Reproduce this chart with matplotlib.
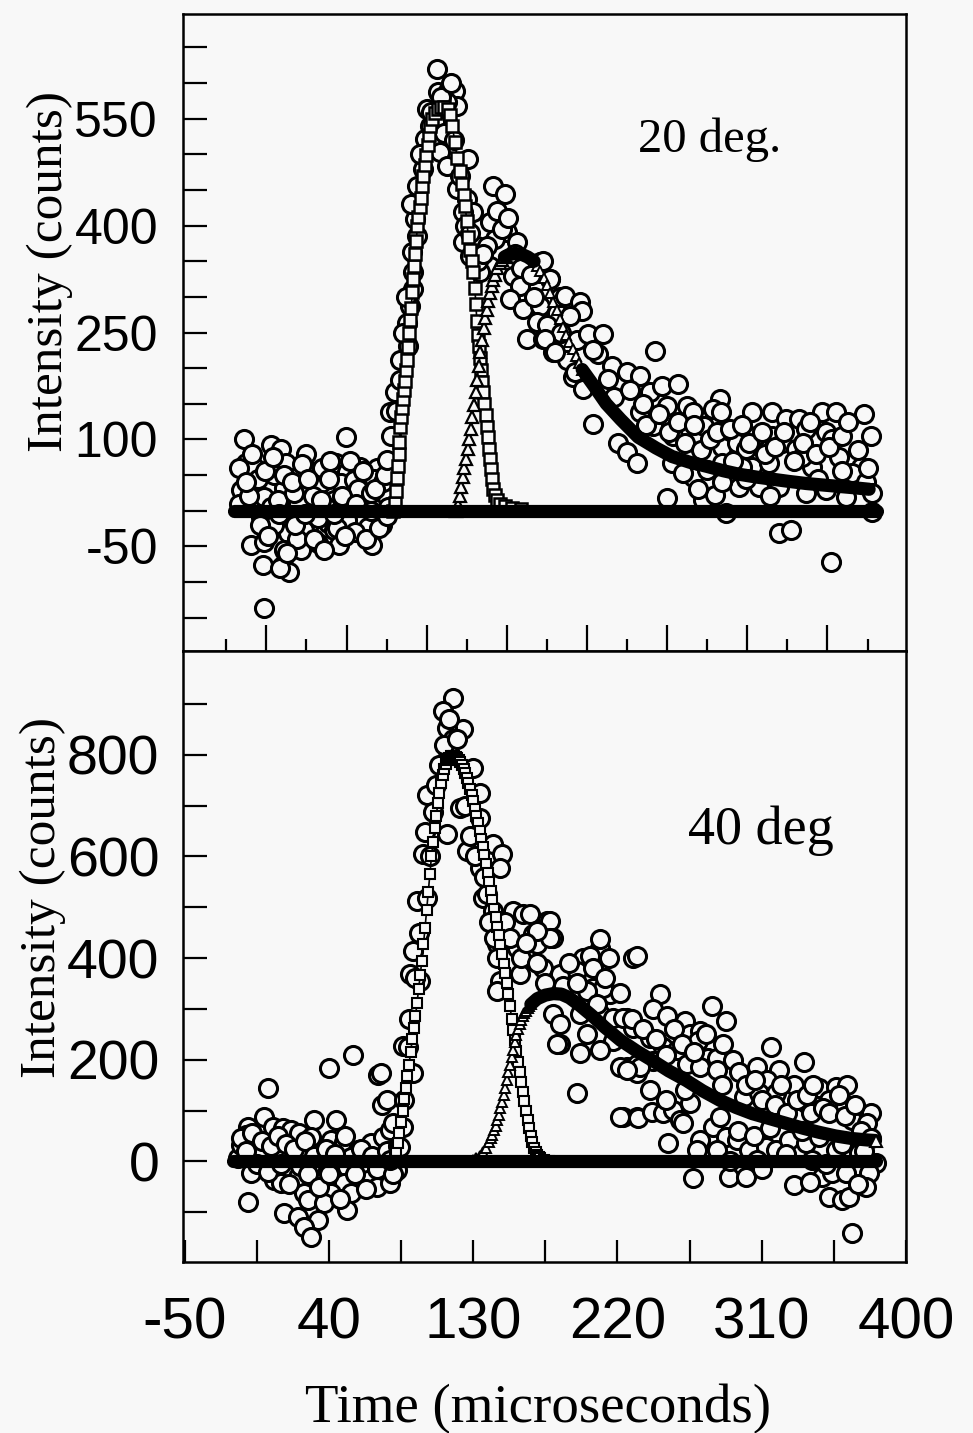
import matplotlib
matplotlib.use("Agg")
import matplotlib.pyplot as plt
from matplotlib import font_manager
import numpy as np

# ------------------------------------------------------------------
# DATA
# ------------------------------------------------------------------
# ---- top panel (20 deg.) : measured counts (open circles) ----
top_obs_t_a = [-13.1, 3.7, 10, 25.5, 50.4, -11.8, -6.8, 13.1, 20.5, 44.2, 51.6, 59.7, 70.3,
               -14.9, -6.8, -0.6, 11.8, 24.3, 34.8, 47.3, 55.4, 64.1, 72.2, 76.5, 3.7, 20.5,
               30.5, 42.9, 59.7, -2.5, 16.2, 26.8, 39.2, 51.6, 70.3, 14.3, 24.3, 42.9, 64.1,
               -8.7, -0.6, 11.8, 22.4, 33, 46, 67.2, -1.2, 11.2, 15, -0.6, 9.3,
               -16, -10, -4, 6, 8, 18, 28, 30, 36, 38, 40, 54, 58, 62, 66, 68, 74, 77,
               6, 20, 33, 45, 56, 73,
               -16, -12, -8, -3, 0, 2, 5, 9, 12, 14, 17, 19, 23, 25, 27, 31, 35, 37, 41, 43,
               48, 50, 53, 57, 61, 63, 66, 69, 71, 75]
top_obs_c_a = [99.9, 92.8, 85.8, 78.8, 102.7, 67.5, 61.9, 67.5, 47.8, 67.5, 54.9, 61.9, 60.5,
               29.5, 32.3, 19.7, 32.3, 32.3, 39.4, 39.4, 43.6, 39.4, 29.5, 19.7, 5.6, 11.3,
               1.4, 15.5, 19.7, -8.4, -16.9, -22.5, -16.9, -12.7, -12.7, -30.9, -26.7, -26.7, -22.5,
               -47.8, -43.6, -54.9, -54.9, -45, -47.8, -47.8, -75.9, -75.9, -85.8, -136.4, -80.2,
               10, 20, 45, 50, 15, 25, 55, 20, 60, 5, 45, 20, 30, 8, 25, 45, 40, 5,
               -20, -40, -10, -25, -30, -20,
               60, 40, 80, -20, 55, -35, 75, -5, 50, -60, 40, -20, 65, -5, 45, -40, 15, -55, 70, -5,
               20, -35, 70, 10, 55, -40, 0, 30, -25, 50]

top_obs_t_b = [76.5, 78.4, 81.5, 84.6, 84.6, 89.6, 89, 90.8, 92.7, 92.7, 92.1, 95.2, 94, 95.2,
               98.9, 100.2, 103.3, 107.6, 108.3, 114.5, 118.8, 120.1, 113.9, 101.4, 109.5, 113.9,
               126.9, 120.1, 126.3, 130, 123.8, 123.8, 128.2, 142.5, 150, 140.6, 151.2, 157.4,
               143.7, 132.5, 138.7, 140.6, 134.4, 154.9, 171.7, 177.9, 159.3, 153, 161.1, 171.7,
               163.6, 173.6, 182.3, 192.2, 179.8, 188.5, 76.5,
               79, 82, 86, 88, 91, 97, 104, 106, 110, 116, 112, 118, 122, 125, 128, 133, 136,
               145, 148, 152, 156, 160, 166, 168, 170, 176, 185, 184, 195]
top_obs_c_b = [71.7, 137.8, 166, 184, 212, 231, 264, 287, 311, 335, 363, 385, 409, 456,
               480, 522, 540, 620, 588, 589, 589, 568, 574, 564, 503, 484,
               494, 451, 437, 419, 419, 377, 357, 456, 444, 405, 391, 377,
               381, 371, 371, 343, 335, 329, 349, 325, 315, 297, 283, 287,
               241, 241, 278, 188, 222, 212, -8,
               105, 140, 250, 300, 430, 500, 560, 545, 580, 600, 530, 520, 470, 400, 390, 350, 360,
               420, 395, 410, 360, 340, 330, 300, 265, 260, 250, 300, 240]

top_obs_t_c = [173.6, 177.9, 187.3, 196.6, 197.8, 190.4, 174.8, 181, 201.6, 210.9, 207.8, 193.5,
               198.5, 216.5, 225.8, 233.9, 243.2, 204.7, 220.2, 225.8, 232, 240.1, 247.6, 257.6,
               250.7, 263.2, 233.9, 242, 254.4, 266.9, 274.3, 283.7, 279.3, 284.9, 253.8, 266.9,
               275.6, 285.5, 294.3, 300.5, 304.2, 316.7, 306.7, 316.7, 325.4, 333.4, 337.8, 322.9,
               331.6, 347.8, 356.5, 350.2, 354, 373.9, 378.2, 367.7, 372, 358.3, 366.4, 375.1,
               378.9, 378.9, 250.7, 273.1, 280.6, 288, 296.1, 308.6, 321, 337.8, 350.2, 362.7,
               321, 328.5, 353.4, 260.7, 294.3, 304.2, 314.8, 341.5, 335.3, 285.5, 297.4,
               205, 214, 218, 228, 236, 238, 246, 252, 258, 262, 268, 272, 278, 282, 290, 292,
               298, 302, 310, 312, 318, 324, 330, 336, 340, 344, 352, 360, 364, 370, 376, 300,
               315, 345, 360, 270, 285]
top_obs_c_c = [350.2, 324.9, 301, 292.5, 279.9, 272.9, 240.5, 222.2, 247.5, 247.5, 219.4, 194.1,
               170.2, 202.5, 194.1, 188.5, 223.6, 121, 95.6, 81.6, 67.5, 166, 174.4, 177.2,
               146.3, 146.3, 137.8, 118.1, 104.1, 137.8, 118.1, 156.1, 142.1, 137.8, 67.5, 47.8,
               57.7, 90, 95.6, 85.8, 137.8, 137.8, 104.1, 104.1, 128, 128, 113.9, 95.6,
               85.8, 137.8, 137.8, 109.7, 99.9, 135, 104.1, 71.7, 61.9, 75.9, 53.4, 40.8,
               25.3, -1.4, 18.3, 15.5, 22.5, -2.8, 33.8, 33.8, 33.8, 25.3, 29.5, 19.7,
               -30.9, -26.7, -71.7, 53.4, 61.9, 61.9, 67.5, 61.9, 75.9, 67.5, 61.9,
               225, 185, 160, 170, 150, 120, 135, 110, 125, 95, 120, 85, 100, 110, 115, 70,
               120, 95, 110, 80, 90, 110, 70, 95, 125, 80, 90, 105, 125, 85, 60, 45,
               20, 45, 55, 30, 40]

# ---- top panel : fitted components ----
top_base_t = [-19, 382]
top_base_c = [0, 0]

top_fast_t = [80.3, 81.5, 82.0, 82.5, 83.0, 83.5, 84.0, 84.6, 85.2, 85.8, 86.4, 87.0, 87.6, 88.3,
              89.0, 89.6, 90.2, 90.8, 91.4, 92.1, 92.7, 93.3, 93.9, 94.5, 95.2, 95.9, 96.6,
              97.3, 98.1, 98.9, 99.8, 100.7, 101.6, 102.5, 103.3, 104.5, 106, 108, 110, 112,
              114, 115.5, 117, 118.5, 120, 121.5, 123, 124, 125, 126, 127, 128, 129, 130, 131,
              131.7, 132.3, 133, 133.6, 134.3, 135, 135.6, 136.2, 137, 137.9, 138.7, 139.3, 140,
              140.6, 141.2, 141.8, 142.5, 143.5, 145, 147, 150, 154, 160]
top_fast_c = [0, 11, 28, 46, 63, 80, 97, 118, 131, 144, 157, 169, 182, 197,
              212, 230, 249, 267, 285, 307, 325, 343, 360, 378, 399, 412, 426,
              439, 455, 470, 485, 499, 513, 527, 540, 550, 558, 564, 567, 567,
              564, 555, 540, 518, 495, 476, 458, 443, 428, 407, 384, 366, 350, 335, 313,
              290, 266, 247, 231, 214, 197, 181, 166, 150, 134, 118, 103, 87,
              72, 58, 44, 30, 22, 15, 10, 6, 3, 2]

top_slow_rise_t = [119.5, 120.5, 121.5, 122.5, 123.5, 124.5, 125.5, 126.5, 127.5, 128.5, 129.5,
                   130.5, 131.5, 132.5, 133.5, 134.5, 135.5, 136.5, 137.5, 138.5, 139.5, 140.5,
                   141.5, 142.5, 143.5, 145, 146.5, 148, 149.5]
top_slow_rise_c = [0, 8, 20, 33, 47, 60, 73, 86, 100, 115, 131,
                   148, 166, 184, 203, 222, 240, 256, 270, 282, 294, 305,
                   315, 323, 331, 340, 347, 352, 356]
top_slow_cap_t = [149.5, 152, 156, 160, 164, 168]
top_slow_cap_c = [356, 359, 361, 360, 356, 350]
top_slow_fall_t = [168, 170, 172, 174, 176, 178, 180, 182, 184, 186, 188, 190, 192, 194, 196, 198]
top_slow_fall_c = [350, 344, 337, 327, 316, 305, 293, 281, 269, 258, 247, 237, 227, 217, 207, 198]
top_slow_tail_t = [198, 205, 213, 222, 233, 244, 254, 265, 276, 286, 296, 307, 317, 327, 338,
                   348, 358, 368, 377]
top_slow_tail_c = [198, 176, 150, 128, 103, 88, 76, 68, 62, 56, 51, 47, 44, 41, 38,
                   36, 34, 32, 30]

# ---- bottom panel (40 deg) : measured counts ----
bot_obs_t_a = [1.9, 39.8, 54.8, 70.9, 73.4, 86.5, -10.6, -0.6, 5, 11.2, 16.2, 21.2, 30.5, 44.2,
               28.6, 41.1, 49.2, 57.9, 66, 74, 78.4, 86.5, -13.1, -2.5, 8.1, 22.4, 33, 53.5,
               -8.7, 3.7, 16.2, 39.2, 51.6, 61.6, 74, 82.7, 5.6, 10, 20.5, 36.7, 49.2, 64.1,
               70.3, 78.4, -10.6, 24.3, 41.1, 53.5, 26.8, 36.7, 51.6, 11.8, 20.5, 33, 24.3,
               28.6, -16.8, -14.9, -11.8,
               -15, -12, -8, -5, -2, 2, 4, 8, 10, 13, 15, 18, 22, 25, 27, 31, 34, 38, 40, 44,
               47, 50, 56, 60, 63, 67, 70, 76, 80, 83]
bot_obs_c_a = [143.4, 182.7, 208.3, 169, 110, 227.9, 66.8, 86.4, 66.8, 64.8, 60.9, 55, 80.6, 80.6,
               47.2, 41.3, 37.3, 21.6, 35.4, 47.2, 60.9, 66.8, 7.9, 21.6, 15.7, 15.7, 7.9, 7.9,
               -23.6, -11.8, -17.7, -17.7, -11.8, -11.8, -11.8, -17.7, -37.3, -43.2, -31.4, -37.3,
               -43.2, -37.3, -51.1, -43.2, -80.6, -62.9, -62.9, -62.9, -76.6, -82.5, -96.3,
               -102.2, -110, -115.9, -129.7, -149.3, 5.9, 31.4, 51.1,
               45, 20, 55, -5, 40, -20, 30, 50, -5, 35, -45, 25, -10, 40, -25, 10, -50, 25, -25, 15,
               -75, 50, -25, 25, -55, 10, -15, 20, -25, 30]

bot_obs_t_b = [117.6, 111.4, 123.8, 113.9, 117.6, 114.5, 130, 121.9, 134.4, 134.4, 113.9, 126.3,
               101.4, 105.1, 100.2, 98.9, 95.2, 101.4, 92.7, 90.8, 97.1, 89.6, 92.7, 72.2, 76.5,
               80.3, 84.6, 78.4, 142.5, 148.1, 146.8, 134.4, 136.2, 138.7, 142.5, 154.9, 161.1,
               165.5, 176.1, 177.9, 167.4, 179.8, 169.8, 157.4, 145, 145, 146.8, 145, 159.3,
               173.6, 184.1, 198.5, 209, 209, 229.6, 179.8, 184.1, 196.6, 200.9, 209, 217.1,
               217.1, 225.8, 232, 194.7, 223.3, 232, 204.7, 215.3,
               177.9, 169.8, 202.8, 194.7, 210.9, 200.9, 207.2, 225.8, 229.6, 184.1, 182.3,
               196.6, 209, 221.5, 232,
               87, 90, 94, 96, 103, 107, 109, 112, 115, 120, 125, 128, 131, 137, 140, 143, 150,
               153, 160, 163, 170, 175, 186, 190, 195, 205, 212, 215]
bot_obs_c_b = [911.6, 886, 850.7, 852.7, 831, 807.5, 774, 695.5, 725, 675.8, 644.4, 611,
               721, 687.6, 648.3, 605, 512.8, 518.7, 414.5, 369.4, 355.6, 224, 172.9, 172.9, 119.8,
               74.7, 27.5, 2, 624.8, 605, 577.6, 577.6, 518.7, 526.5, 493.1, 493.1, 487.2,
               487.2, 473.5, 473.5, 448, 440, 428.3, 420.4, 428.3, 400.8, 355.6, 336, 369.4,
               381.1, 369.4, 400.8, 420.4, 438, 400.8, 290.8, 231.8, 290.8, 251.5, 290.8, 282.9,
               237.7, 184.7, 192.5, 133.6, 86.4, 86.4, 341.8, 330,
               440, 453.8, 404.7, 375.2, 341.8, 336, 310.4, 282.9, 263.3, 271.1, 231.8,
               212.2, 218.1, 184.7, 172.9,
               120, 280, 360, 450, 600, 740, 780, 820, 870, 830, 700, 640, 600, 560, 470, 440, 470,
               440, 400, 430, 390, 350, 345, 390, 350, 380, 360, 400]

bot_obs_t_c = [232, 221.5, 246.4, 242, 250.7, 223.3, 228.9, 261.9, 265, 271.2, 278.7, 288, 270,
               276.2, 282.4, 240.1, 248.2, 256.9, 263.2, 271.2, 281.8, 242, 233.9, 225.8, 316,
               307.3, 321, 336.6, 330.3, 313.5, 304.2, 299.2, 308.6, 319.1, 345.9, 356.5, 363.3,
               360.2, 352.1, 337.8, 340.9, 366.4, 378.2, 375.7, 221.5, 232.7, 241.4, 248.2, 254.4,
               258.8, 265, 260.7, 251.3, 271.2, 279.3, 283.7, 288, 294.3, 302.3, 312.9, 319.1,
               327.2, 337.8, 345.9, 356.5, 366.4, 370.8, 381.3, 377, 266.9, 289.9, 300.5, 330.3,
               347.8, 354, 375.1, 352.1, 360.2, 364.6, 366.4, 269.4, 281.8, 307.3, 341.5, 362.7,
               236, 244, 250, 255, 260, 268, 275, 286, 292, 296, 300, 306, 310, 318, 322, 326,
               332, 338, 342, 348, 352, 358, 362, 368, 372, 378, 240, 250, 262, 285, 295, 305,
               315, 325, 335, 350, 360, 370, 374, 290, 310, 340]
bot_obs_c_c = [404.7, 332, 330, 300.6, 286.8, 282.9, 281, 277, 251.5, 257.4, 306.5, 277, 237.7,
               204.3, 202.4, 243.6, 224, 218.1, 192.5, 184.7, 178.8, 198.4, 184.7, 178.8, 224,
               184.7, 178.8, 194.5, 149.3, 159.1, 153.2, 125.7, 133.6, 133.6, 143.4, 145.4, 149.3,
               115.9, 119.8, 113.9, 94.3, 80.6, 94.3, 74.7, 86.4, 84.5, 96.3, 94.3, 100.2,
               80.6, 113.9, 74.7, 35.4, 41.3, 66.8, 86.4, 47.2, 41.3, 21.6, 27.5, 21.6,
               41.3, 35.4, 47.2, 21.6, 21.6, 15.7, -3.9, -23.6, -33.4, -31.4, -31.4, -47.2,
               -31.4, -23.6, -51.1, -70.7, -76.6, -70.7, -141.5, 21.6, 21.6, 2, 2, -23.6,
               260, 240, 210, 260, 230, 215, 250, 230, 200, 175, 150, 160, 120, 110, 150, 95,
               120, 130, 150, 105, 95, 130, 90, 110, 60, 45, 140, 120, 140, 150, 60, 50,
               65, 15, 60, -5, 35, -45, 20, 0, -15, -40]

# ---- bottom panel : fitted components ----
bot_base_t = [-20, 381]
bot_base_c = [0, 0]

bot_fast_t = [80, 81, 82, 83, 84, 85, 86, 87, 88, 89, 90, 91, 92, 93, 94, 95, 96, 97, 98, 99,
              100, 101, 102, 103, 104, 105, 106, 107, 108, 109, 110, 111, 112, 113, 114, 115,
              116, 117, 118, 119, 120, 121, 122, 123, 124, 125, 126, 127, 128, 129, 130, 131,
              132, 133, 134, 135, 136, 137, 138, 139, 140, 141, 142, 143, 144, 145, 146, 147,
              148, 149, 150, 151, 152, 153, 154, 155, 156, 157, 158, 159, 160, 161, 162, 163,
              164, 165, 166, 167, 168, 169, 170, 171, 172, 174, 177]
bot_fast_c = [0, 8, 20, 36, 55, 77, 100, 122, 145, 167, 190, 215, 240, 262, 285, 312, 340, 367,
              395, 427, 460, 495, 530, 565, 600, 628, 655, 680, 705, 725, 745, 760, 772, 782,
              790, 794, 797, 798, 797, 796, 793, 789, 785, 779, 772, 764, 755, 745, 733, 721,
              708, 694, 680, 665, 650, 634, 618, 602, 585, 568, 550, 532, 515, 497, 480, 462,
              445, 426, 408, 389, 370, 350, 330, 305, 280, 259, 238, 217, 196, 176, 156, 137,
              118, 100, 82, 66, 50, 38, 27, 19, 13, 9, 6, 3, 1]

bot_slow_rise_t = [126, 128, 130, 132, 134, 136, 138, 140, 141, 142, 143, 144, 145, 146, 147, 148,
                   149, 150, 151, 152, 153, 154, 155, 156, 157, 158, 159, 160, 161, 162, 163,
                   164, 165, 166]
bot_slow_rise_c = [0, 1, 3, 6, 11, 18, 27, 38, 45, 52, 61, 70, 81, 92, 104, 117,
                   131, 145, 160, 175, 190, 205, 220, 235, 248, 260, 270, 278, 285, 291, 296,
                   301, 305, 309]
bot_slow_tail_t = [166, 170, 175, 180, 185, 190, 196, 204, 212, 222, 232, 242, 252, 263, 273,
                   284, 294, 304, 315, 325, 336, 346, 356, 366, 376, 381]
bot_slow_tail_c = [309, 320, 327, 330, 329, 322, 308, 287, 264, 238, 217, 198, 178, 159, 139,
                   120, 106, 94, 84, 75, 65, 57, 50, 45, 42, 41]

# ---- axis ticks / labels ----
x_labels = [-50, 40, 130, 220, 310, 400]
top_y_labels = [-50, 100, 250, 400, 550]
bot_y_labels = [0, 200, 400, 600, 800]

# ------------------------------------------------------------------
top_obs_t = top_obs_t_a + top_obs_t_b + top_obs_t_c
top_obs_c = top_obs_c_a + top_obs_c_b + top_obs_c_c
bot_obs_t = bot_obs_t_a + bot_obs_t_b + bot_obs_t_c
bot_obs_c = bot_obs_c_a + bot_obs_c_b + bot_obs_c_c
for a, b in [(top_obs_t_a, top_obs_c_a), (top_obs_t_b, top_obs_c_b), (top_obs_t_c, top_obs_c_c),
             (bot_obs_t_a, bot_obs_c_a), (bot_obs_t_b, bot_obs_c_b), (bot_obs_t_c, bot_obs_c_c),
             (top_fast_t, top_fast_c), (top_slow_rise_t, top_slow_rise_c),
             (top_slow_fall_t, top_slow_fall_c), (top_slow_tail_t, top_slow_tail_c),
             (bot_fast_t, bot_fast_c), (bot_slow_rise_t, bot_slow_rise_c),
             (bot_slow_tail_t, bot_slow_tail_c)]:
    assert len(a) == len(b), (len(a), len(b), a[:3])

plt.rcParams['axes.unicode_minus'] = False
names = {f.name for f in font_manager.fontManager.ttflist}
SANS = 'Liberation Sans' if 'Liberation Sans' in names else 'DejaVu Sans'
NARROW = 'Liberation Sans Narrow' if 'Liberation Sans Narrow' in names else SANS
SERIF = 'Liberation Serif' if 'Liberation Serif' in names else 'DejaVu Serif'

W, H = 973, 1433
BG = '#f8f8f8'
fig = plt.figure(figsize=(W / 100, H / 100), dpi=100)
fig.patch.set_facecolor(BG)


def rect(l, t, r, b):
    return [l / W, 1 - b / H, (r - l) / W, (b - t) / H]


ax1 = fig.add_axes(rect(183, 14, 906, 651))
ax2 = fig.add_axes(rect(183, 651, 906, 1262))

for ax in (ax1, ax2):
    ax.set_facecolor(BG)
    for s in ax.spines.values():
        s.set_linewidth(1.8)
        s.set_color('black')
    ax.set_xlim(-51, 400)


def draw_obs(ax, t, c):
    ax.plot(t, c, 'o', ls='none', ms=13, mew=2.2, mfc=BG, mec='black', zorder=2)


def draw_markers(ax, t, c, marker, ms, mew):
    ax.plot(t, c, '-', color='black', lw=1.2, zorder=3)
    ax.plot(t, c, marker, ls='none', ms=ms, mew=mew, mfc=BG, mec='black', zorder=3)


def draw_thick(ax, t, c, lw):
    ax.plot(t, c, '-', color='black', lw=lw, solid_capstyle='round', zorder=4)


# ---------------- top panel ----------------
draw_obs(ax1, top_obs_t, top_obs_c)
draw_thick(ax1, top_base_t, top_base_c, 9.5)
draw_markers(ax1, top_fast_t, top_fast_c, 's', 8.5, 1.8)
draw_markers(ax1, top_slow_rise_t, top_slow_rise_c, '^', 8.5, 1.6)
draw_markers(ax1, top_slow_fall_t, top_slow_fall_c, '^', 7.0, 1.4)
draw_thick(ax1, top_slow_cap_t, top_slow_cap_c, 9.5)
draw_thick(ax1, top_slow_tail_t, top_slow_tail_c, 9.5)

ax1.set_ylim(-197, 697)
ax1.set_yticks(top_y_labels)
ax1.set_yticks([-150, -100, 0, 50, 150, 200, 300, 350, 450, 500, 600, 650], minor=True)
ax1.set_yticklabels([str(v) for v in top_y_labels], fontsize=36, family=SANS)
ax1.tick_params(axis='y', which='both', direction='in', length=17, width=1.6, pad=18,
                right=False)
ax1.set_xticks(np.arange(1, 352, 50))
ax1.set_xticks(np.arange(-24, 380, 50), minor=True)
ax1.tick_params(axis='x', which='major', direction='in', length=19, width=1.6,
                labelbottom=False, top=False)
ax1.tick_params(axis='x', which='minor', direction='in', length=9, width=1.6,
                labelbottom=False, top=False)

# ---------------- bottom panel ----------------
draw_obs(ax2, bot_obs_t, bot_obs_c)
draw_thick(ax2, bot_base_t, bot_base_c, 9.5)
draw_markers(ax2, bot_fast_t, bot_fast_c, 's', 7.0, 1.5)
draw_markers(ax2, bot_slow_rise_t, bot_slow_rise_c, '^', 7.0, 1.4)
draw_thick(ax2, bot_slow_tail_t, bot_slow_tail_c, 9.5)
ax2.plot(bot_slow_tail_t[-1:], bot_slow_tail_c[-1:], '^', ms=8, mew=1.5, mfc=BG, mec='black',
         zorder=5)

ax2.set_ylim(-198, 1004)
ax2.set_yticks(bot_y_labels)
ax2.set_yticks([-100, 100, 300, 500, 700, 900], minor=True)
ax2.set_yticklabels([str(v) for v in bot_y_labels], fontsize=40, family=SANS)
ax2.tick_params(axis='y', which='both', direction='in', length=17, width=1.6, pad=17,
                right=False)
ax2.set_xticks(x_labels)
ax2.set_xticks([-5, 85, 175, 265, 355], minor=True)
ax2.set_xticklabels([str(v) for v in x_labels], fontsize=46 if NARROW != SANS else 42,
                    family=NARROW)
ax2.tick_params(axis='x', which='both', direction='in', length=16, width=1.6, pad=25, top=False)

# ---------------- texts ----------------
fig.text(638 / W, 1 - 152 / H, '20 deg.', fontsize=35, family=SERIF, ha='left', va='baseline')
fig.text(688 / W, 1 - 844 / H, '40 deg', fontsize=39, family=SERIF, ha='left', va='baseline')
fig.text(50 / W, 1 - 272 / H, 'Intensity (counts)', fontsize=37, family=SERIF, rotation=90,
         ha='center', va='center')
fig.text(43 / W, 1 - 897 / H, 'Intensity (counts)', fontsize=37, family=SERIF, rotation=90,
         ha='center', va='center')
fig.text(538 / W, 1 - 1422 / H, 'Time (microseconds)', fontsize=39.5, family=SERIF, ha='center',
         va='baseline')

fig.savefig('out.png', dpi=100, facecolor=BG)
